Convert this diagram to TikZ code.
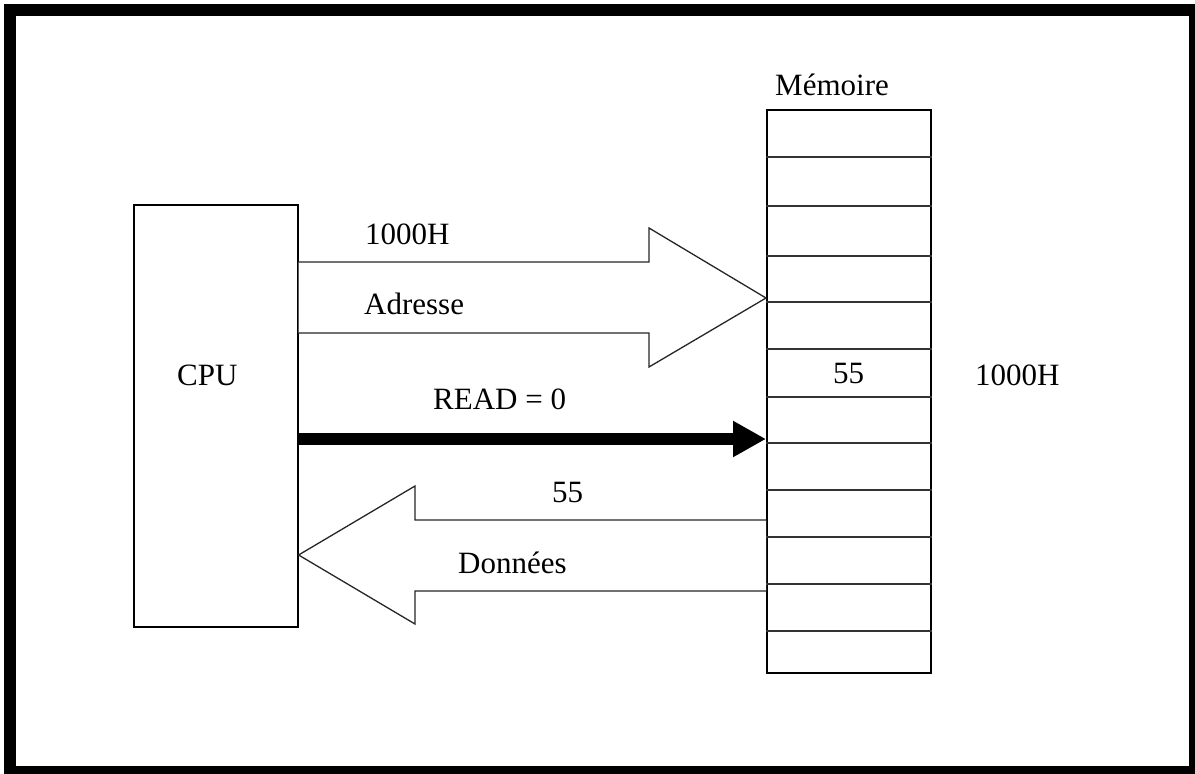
\documentclass[tikz,border=0pt]{standalone}
\usepackage{fontspec}
\setmainfont{Liberation Serif}
\usetikzlibrary{arrows.meta}
\begin{document}
\begin{tikzpicture}[x=1pt,y=-1pt,
  lbl/.style={anchor=base west,inner sep=0pt,font=\fontsize{31}{36}\selectfont},
  boxline/.style={draw=black,line width=1.6pt},
  cellline/.style={draw=black!80,line width=1.6pt},
  blockarrow/.style={draw=black!85,line width=1.3pt,fill=white,line join=miter},
  readarrow/.style={draw=black,line width=12pt,-{Triangle[length=33pt,width=34pt]}}]
\useasboundingbox (0,0) rectangle (1195,774);
% outer frame
\draw[line width=12pt] (10,10) rectangle (1195,772);
% CPU box
\node[boxline,minimum width=164pt,minimum height=422pt,inner sep=0pt,anchor=north west] (cpu) at (133,204) {};
\node[lbl] (cputxt) at (177,385) {CPU};
% memory
\node[boxline,minimum width=164pt,minimum height=563pt,inner sep=0pt,anchor=north west] (mem) at (766,109) {};
\foreach \yy in {157,206,256,302,349,397,443,490,537,584,631}
  \draw[cellline] (mem.west |- 0,\yy) -- (mem.east |- 0,\yy);
\node[lbl] (memtitle) at (775,95) {Mémoire};
\node[lbl] (val) at (833,383) {55};
\node[lbl] (addr) at (975,385) {1000H};
% address bus arrow
\coordinate (atip) at (mem.west |- 0,298);
\draw[blockarrow] (cpu.east |- 0,262) -- (649,262) -- (649,228) -- (atip) -- (649,367) -- (649,333) -- (cpu.east |- 0,333);
\node[lbl] (a1) at (365,244) {1000H};
\node[lbl] (a2) at (364,314) {Adresse};
% read line
\draw[readarrow] (cpu.east |- 0,439) -- (mem.west |- 0,439);
\node[lbl] (rd) at (433,409) {READ = 0};
% data bus arrow
\coordinate (dtip) at (cpu.east |- 0,555);
\draw[blockarrow] (mem.west |- 0,520) -- (415,520) -- (415,486) -- (dtip) -- (415,624) -- (415,591) -- (mem.west |- 0,591);
\node[lbl] (d1) at (552,502) {55};
\node[lbl] (d2) at (458,573) {Données};
\end{tikzpicture}
\end{document}
